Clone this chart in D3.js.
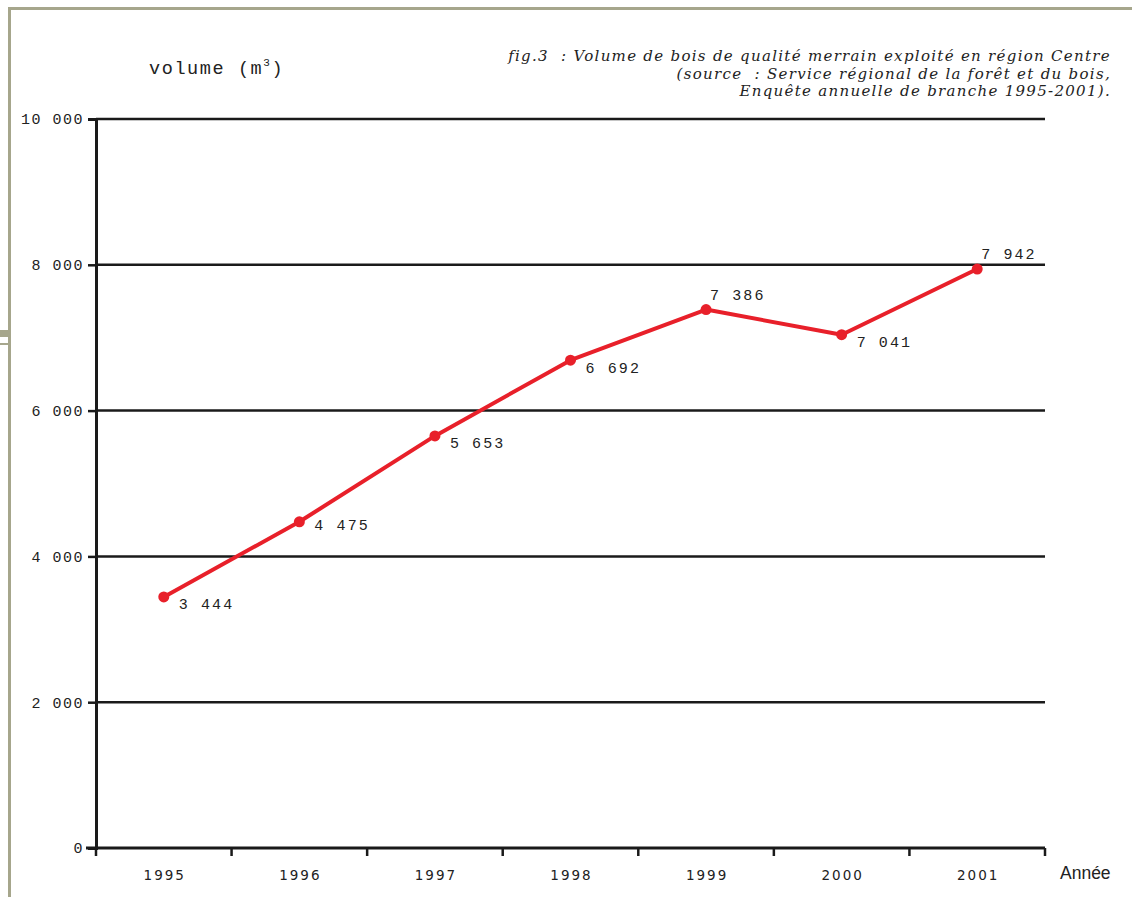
<!DOCTYPE html>
<html>
<head>
<meta charset="utf-8">
<script src="https://cdn.jsdelivr.net/npm/d3@7/dist/d3.min.js"></script>
<style>
  html, body { margin: 0; padding: 0; background: #fff; }
  svg { display: block; }
</style>
</head>
<body>
<script>
// Volume de bois de qualité merrain exploité en région Centre, 1995-2001
const years = ["1995", "1996", "1997", "1998", "1999", "2000", "2001"];
const volumes = [3444, 4475, 5653, 6692, 7386, 7041, 7942];
const yTicks = [0, 2000, 4000, 6000, 8000, 10000];
// where each value label sits relative to its point
const labelPlacement = ["below", "right", "below", "below", "above", "below", "above"];
const titleLines = [
  "fig.3  : Volume de bois de qualité merrain exploité en région Centre",
  "(source  : Service régional de la forêt et du bois,",
  "Enquête annuelle de branche 1995-2001)."
];

const W = 1132, H = 897;
const margin = { left: 96, right: 1045, top: 119, bottom: 848 };
const fmt = v => d3.format(",")(v).replace(/,/g, " ");

const svg = d3.select("body").append("svg")
  .attr("width", W).attr("height", H);

// page frame
const frame = svg.append("g").attr("fill", "#a6a68c");
frame.append("rect").attr("x", 8).attr("y", 7).attr("width", W - 8).attr("height", 3);
frame.append("rect").attr("x", 8).attr("y", 7).attr("width", 3).attr("height", H - 7);
frame.append("rect").attr("x", 0).attr("y", 330).attr("width", 9).attr("height", 7);
frame.append("rect").attr("x", 0).attr("y", 343).attr("width", 9).attr("height", 2);

const x = d3.scaleBand().domain(years).range([margin.left, margin.right]);
const y = d3.scaleLinear().domain([0, 10000]).range([margin.bottom, margin.top]);

const mono = "'Liberation Mono', 'DejaVu Sans Mono', monospace";

// horizontal grid
svg.append("g").selectAll("line").data(yTicks.filter(d => d > 0)).join("line")
  .attr("x1", margin.left).attr("x2", margin.right)
  .attr("y1", d => y(d)).attr("y2", d => y(d))
  .attr("stroke", "#1a1a1a").attr("stroke-width", 2.5);

// y axis
const yAxis = svg.append("g")
  .attr("transform", `translate(${margin.left},0)`)
  .call(d3.axisLeft(y).tickValues(yTicks).tickFormat(fmt).tickSize(8).tickPadding(4));
yAxis.select(".domain").attr("stroke", "#1a1a1a").attr("stroke-width", 3);
yAxis.selectAll(".tick line").attr("stroke", "#1a1a1a").attr("stroke-width", 2.5);
yAxis.selectAll(".tick text")
  .attr("font-family", mono).attr("font-size", 15)
  .attr("letter-spacing", "1.5px").attr("fill", "#222");

// x axis with ticks at the band boundaries
const xAxisG = svg.append("g").attr("transform", `translate(0,${margin.bottom})`);
xAxisG.append("line")
  .attr("x1", margin.left - 10).attr("x2", margin.right)
  .attr("stroke", "#1a1a1a").attr("stroke-width", 3);
const bounds = years.map(d => x(d)).concat([x(years[years.length - 1]) + x.bandwidth()]);
xAxisG.selectAll("line.tk").data(bounds).join("line").attr("class", "tk")
  .attr("x1", d => d).attr("x2", d => d).attr("y1", 0).attr("y2", 8)
  .attr("stroke", "#1a1a1a").attr("stroke-width", 2.5);
xAxisG.selectAll("text").data(years).join("text")
  .attr("x", d => x(d) + x.bandwidth() / 2 + 1).attr("y", 32)
  .attr("text-anchor", "middle")
  .attr("font-family", "'DejaVu Sans', sans-serif").attr("font-size", 13.5)
  .attr("letter-spacing", "2px").attr("fill", "#222")
  .text(d => d);

svg.append("text").attr("x", 1060).attr("y", 879)
  .attr("font-family", "'Liberation Sans', Arial, sans-serif").attr("font-size", 17.5)
  .attr("fill", "#222").text("Année");

// y label
const yl = svg.append("text").attr("x", 149).attr("y", 74)
  .attr("font-family", mono).attr("font-size", 18.5)
  .attr("letter-spacing", "1.6px").attr("fill", "#222");
yl.append("tspan").text("volume (m");
yl.append("tspan").attr("font-size", 11).attr("dy", -8).text("3");
yl.append("tspan").attr("dy", 8).text(")");

// title
svg.append("g").selectAll("text").data(titleLines).join("text")
  .attr("x", 1111).attr("y", (d, i) => 61 + i * 17.5)
  .attr("text-anchor", "end")
  .style("white-space", "pre")
  .attr("font-family", "'DejaVu Serif', serif").attr("font-style", "italic")
  .attr("font-size", 15).attr("letter-spacing", "1.3px").attr("fill", "#222")
  .text(d => d);

// series
const cx = d => x(d) + x.bandwidth() / 2;
const pts = years.map((d, i) => ({ year: d, v: volumes[i], pos: labelPlacement[i] }));
svg.append("path").datum(pts)
  .attr("d", d3.line().x(d => cx(d.year)).y(d => y(d.v)))
  .attr("fill", "none").attr("stroke", "#e8202a").attr("stroke-width", 4)
  .attr("stroke-linejoin", "round");
svg.append("g").selectAll("circle").data(pts).join("circle")
  .attr("cx", d => cx(d.year)).attr("cy", d => y(d.v)).attr("r", 5.5)
  .attr("fill", "#e8202a");

const off = { below: [15, 12.5], right: [15, 8], above: [4, -10] };
svg.append("g").selectAll("text").data(pts).join("text")
  .attr("x", d => cx(d.year) + off[d.pos][0])
  .attr("y", d => y(d.v) + off[d.pos][1])
  .attr("font-family", mono).attr("font-size", 15)
  .attr("letter-spacing", "2.1px").attr("fill", "#222")
  .text(d => fmt(d.v));
</script>
</body>
</html>
